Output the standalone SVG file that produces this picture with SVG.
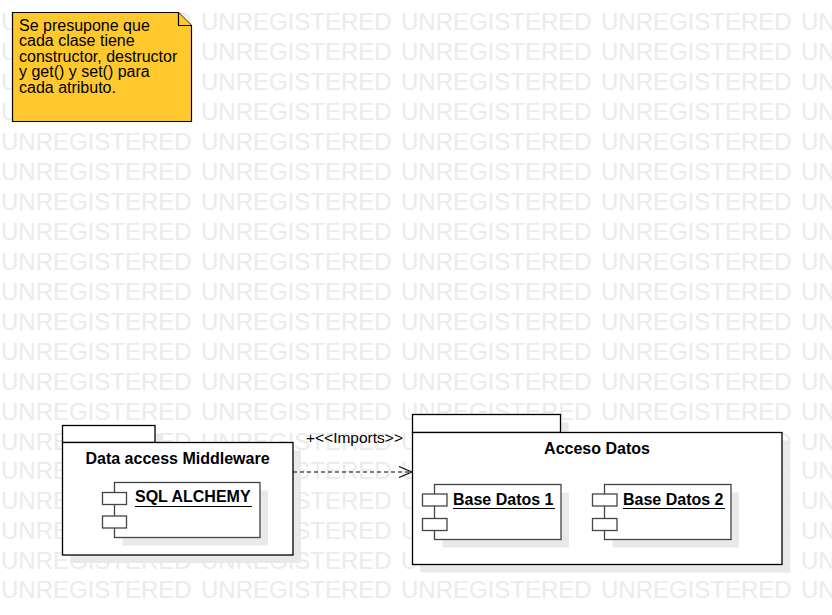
<svg xmlns="http://www.w3.org/2000/svg" width="832" height="615" viewBox="0 0 832 615">
<defs>
<style>
.wm{font-family:"Liberation Sans",Arial,sans-serif;font-size:24px;fill:#ebebeb;word-spacing:2.65px}
.shadow{fill:#e9e9e9;stroke:none}
.pkg{fill:#fff;stroke:#000;stroke-width:1.3}
.cmp{fill:#fff;stroke:#444;stroke-width:1.3}
.title{font-family:"Liberation Sans",Arial,sans-serif;font-size:16px;font-weight:bold;fill:#000;text-anchor:middle}
.cname{font-family:"Liberation Sans",Arial,sans-serif;font-size:16px;font-weight:bold;fill:#000}
.ul{stroke:#000;stroke-width:1.2}
.note{fill:#ffc92e;stroke:#000;stroke-width:1.2}
.ntext{font-family:"Liberation Sans",Arial,sans-serif;font-size:16px;fill:#000}
.lbl{font-family:"Liberation Sans",Arial,sans-serif;font-size:15.5px;fill:#000}
.conn{fill:none;stroke:#000;stroke-width:1.1}
</style>
</defs>
<rect width="832" height="615" fill="#fff"/>
<g id="watermark" class="wm">
<text x="1" y="30">UNREGISTERED UNREGISTERED UNREGISTERED UNREGISTERED UNREGISTERED</text>
<text x="1" y="60">UNREGISTERED UNREGISTERED UNREGISTERED UNREGISTERED UNREGISTERED</text>
<text x="1" y="90">UNREGISTERED UNREGISTERED UNREGISTERED UNREGISTERED UNREGISTERED</text>
<text x="1" y="120">UNREGISTERED UNREGISTERED UNREGISTERED UNREGISTERED UNREGISTERED</text>
<text x="1" y="150">UNREGISTERED UNREGISTERED UNREGISTERED UNREGISTERED UNREGISTERED</text>
<text x="1" y="180">UNREGISTERED UNREGISTERED UNREGISTERED UNREGISTERED UNREGISTERED</text>
<text x="1" y="210">UNREGISTERED UNREGISTERED UNREGISTERED UNREGISTERED UNREGISTERED</text>
<text x="1" y="240">UNREGISTERED UNREGISTERED UNREGISTERED UNREGISTERED UNREGISTERED</text>
<text x="1" y="270">UNREGISTERED UNREGISTERED UNREGISTERED UNREGISTERED UNREGISTERED</text>
<text x="1" y="300">UNREGISTERED UNREGISTERED UNREGISTERED UNREGISTERED UNREGISTERED</text>
<text x="1" y="330">UNREGISTERED UNREGISTERED UNREGISTERED UNREGISTERED UNREGISTERED</text>
<text x="1" y="360">UNREGISTERED UNREGISTERED UNREGISTERED UNREGISTERED UNREGISTERED</text>
<text x="1" y="390">UNREGISTERED UNREGISTERED UNREGISTERED UNREGISTERED UNREGISTERED</text>
<text x="1" y="420">UNREGISTERED UNREGISTERED UNREGISTERED UNREGISTERED UNREGISTERED</text>
<text x="1" y="450">UNREGISTERED UNREGISTERED UNREGISTERED UNREGISTERED UNREGISTERED</text>
<text x="1" y="479">UNREGISTERED UNREGISTERED UNREGISTERED UNREGISTERED UNREGISTERED</text>
<text x="1" y="509">UNREGISTERED UNREGISTERED UNREGISTERED UNREGISTERED UNREGISTERED</text>
<text x="1" y="539">UNREGISTERED UNREGISTERED UNREGISTERED UNREGISTERED UNREGISTERED</text>
<text x="1" y="569">UNREGISTERED UNREGISTERED UNREGISTERED UNREGISTERED UNREGISTERED</text>
<text x="1" y="598">UNREGISTERED UNREGISTERED UNREGISTERED UNREGISTERED UNREGISTERED</text>
</g>
<g id="note">
<path class="note" d="M12.5 12.5 H178.5 L191.5 25.5 V121.5 H12.5 Z"/>
<path class="note" d="M178.5 12.5 V25.5 H191.5"/>
<text class="ntext" x="19" y="30.5">Se presupone que</text>
<text class="ntext" x="19" y="46.1">cada clase tiene</text>
<text class="ntext" x="19" y="61.7">constructor, destructor</text>
<text class="ntext" x="19" y="77.3">y get() y set() para</text>
<text class="ntext" x="19" y="92.9">cada atributo.</text>
</g>
<g id="pkg-middleware">
<rect class="shadow" x="70.5" y="433.5" width="92.5" height="17"/>
<rect class="shadow" x="70.5" y="450.5" width="230.5" height="112.5"/>
<rect class="pkg" x="62.5" y="425.5" width="92.5" height="17"/>
<rect class="pkg" x="62.5" y="442.5" width="230.5" height="112.5"/>
<text class="title" x="177.5" y="464">Data access Middleware</text>
</g>
<g id="cmp-sqlalchemy">
<rect class="shadow" x="122.5" y="490.5" width="145.5" height="55"/>
<rect class="cmp" x="114.5" y="482.5" width="145.5" height="55"/>
<rect class="cmp" x="102.5" y="492.5" width="24" height="12"/>
<rect class="cmp" x="102.5" y="516" width="24" height="12"/>
<text class="cname" x="135" y="502">SQL ALCHEMY</text>
<line class="ul" x1="135" y1="506.5" x2="252" y2="506.5"/>
</g>
<g id="pkg-acceso">
<rect class="shadow" x="420.5" y="422.5" width="148" height="18"/>
<rect class="shadow" x="420.5" y="440.5" width="369.5" height="132"/>
<rect class="pkg" x="412.5" y="414.5" width="148" height="18"/>
<rect class="pkg" x="412.5" y="432.5" width="369.5" height="132"/>
<text class="title" x="597" y="453.5">Acceso Datos</text>
</g>
<g id="cmp-bd1">
<rect class="shadow" x="442.5" y="492.5" width="126.5" height="55"/>
<rect class="cmp" x="434.5" y="484.5" width="126.5" height="55"/>
<rect class="cmp" x="422.5" y="494" width="24.5" height="12"/>
<rect class="cmp" x="422.5" y="518.5" width="24.5" height="12"/>
<text class="cname" x="453" y="505">Base Datos 1</text>
<line class="ul" x1="453" y1="508.5" x2="555" y2="508.5"/>
</g>
<g id="cmp-bd2">
<rect class="shadow" x="612.5" y="492.5" width="126.5" height="55"/>
<rect class="cmp" x="604.5" y="484.5" width="126.5" height="55"/>
<rect class="cmp" x="592.5" y="494" width="24.5" height="12"/>
<rect class="cmp" x="592.5" y="518.5" width="24.5" height="12"/>
<text class="cname" x="623" y="505">Base Datos 2</text>
<line class="ul" x1="623" y1="508.5" x2="725" y2="508.5"/>
</g>
<g id="connectors">
<line class="conn" x1="293" y1="472" x2="412" y2="472" stroke-dasharray="4,3"/>
<path class="conn" d="M399 466.5 L412 472 L399 477.5"/>
<text class="lbl" x="306" y="443">+&lt;&lt;Imports&gt;&gt;</text>
</g>
</svg>
